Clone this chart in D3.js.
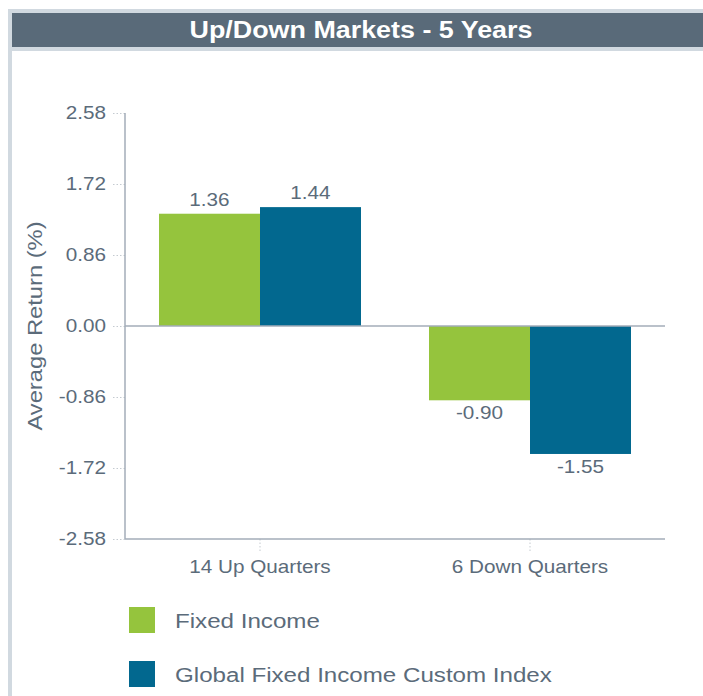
<!DOCTYPE html>
<html>
<head>
<meta charset="utf-8">
<script src="https://cdn.jsdelivr.net/npm/d3@7"></script>
<style>
  body { margin: 0; background: #fff; }
  svg text { font-family: "Liberation Sans", Arial, sans-serif; }
</style>
</head>
<body>
<div id="chart"></div>
<script>
// data
let categories = ["14 Up Quarters", "6 Down Quarters"]
let seriesNames = ["Fixed Income", "Global Fixed Income Custom Index"]
let fixedIncome = [1.36, -0.90]
let customIndex = [1.44, -1.55]
let tickValues = [2.58, 1.72, 0.86, 0.00, -0.86, -1.72, -2.58]

let colors = ["#95c43d", "#02688f"]
let textColor = "#5b6b7a"
let axisColor = "#a3adb8"

let width = 703
let height = 696

// the original text is drawn a bit wider than the font, so stretch it sideways
let stretchK = 1.15
function stretch(sel, k){
    k = k || stretchK
    sel.each(function(){
        let t = d3.select(this)
        let x = +(t.attr("x") || 0)
        let y = +(t.attr("y") || 0)
        let prev = t.attr("transform") || ""
        t.attr("x", 0).attr("y", 0)
         .attr("transform", `${prev} translate(${x}, ${y}) scale(${k}, 1)`)
    })
}

let fmt = function(d){ return d.toFixed(2) }

let svg = d3.select("#chart")
    .append("svg")
    .attr("width", width)
    .attr("height", height)

// frame + header band
svg.append("rect").attr("x", 8).attr("y", 9).attr("width", width).attr("height", 42).attr("fill", "#d1d9e0")
svg.append("rect").attr("x", 8).attr("y", 9).attr("width", 4).attr("height", height).attr("fill", "#d1d9e0")
svg.append("rect").attr("x", 12).attr("y", 13).attr("width", width).attr("height", 34).attr("fill", "#596a79")

svg.append("text")
    .attr("x", 361)
    .attr("y", 38)
    .attr("text-anchor", "middle")
    .attr("fill", "#fff")
    .attr("font-size", 24)
    .attr("font-weight", "bold")
    .text("Up/Down Markets - 5 Years")
    .call(stretch, 1.12)

let plotLeft = 125
let plotRight = 665

let yScale = d3.scaleLinear()
    .domain([-2.58, 2.58])
    .range([539, 113])

let xScale = d3.scaleBand()
    .domain(categories)
    .range([plotLeft, plotRight])

let inner = d3.scaleBand()
    .domain(seriesNames)
    .range([0, 202])

let data = categories.map(function(c, i){
    return { cat: c, values: [fixedIncome[i], customIndex[i]] }
})

// y axis: dotted ticks, no domain
let yAxis = d3.axisLeft(yScale)
    .tickValues(tickValues)
    .tickFormat(fmt)
    .tickSize(12)
    .tickPadding(7)

let yAxisG = svg.append("g")
    .attr("transform", `translate(${plotLeft}, 0)`)
    .call(yAxis)
yAxisG.select(".domain").remove()
yAxisG.selectAll(".tick line")
    .attr("stroke", "#c4cad0")
    .attr("stroke-dasharray", "1.5,2")
yAxisG.selectAll(".tick text")
    .attr("fill", textColor)
    .attr("font-size", 18)
    .attr("font-family", "'Liberation Sans', Arial, sans-serif")
    .call(stretch)

// x axis ticks
let xAxis = d3.axisBottom(xScale)
    .tickSize(12)
    .tickPadding(9)

let xAxisG = svg.append("g")
    .attr("transform", `translate(0, ${yScale(-2.58)})`)
    .call(xAxis)
xAxisG.select(".domain").remove()
xAxisG.selectAll(".tick line")
    .attr("stroke", "#c4cad0")
    .attr("stroke-dasharray", "1.5,2")
xAxisG.selectAll(".tick text")
    .attr("fill", textColor)
    .attr("font-size", 18)
    .attr("font-family", "'Liberation Sans', Arial, sans-serif")
    .call(stretch)

// bars
let groups = svg.selectAll(".group")
    .data(data)
    .enter()
    .append("g")
    .attr("class", "group")
    .attr("transform", function(d){
        return `translate(${xScale(d.cat) + xScale.bandwidth() / 2 - 101}, 0)`
    })

groups.selectAll("rect")
    .data(function(d){ return d.values })
    .enter()
    .append("rect")
    .attr("x", function(d, i){ return inner(seriesNames[i]) })
    .attr("width", inner.bandwidth())
    .attr("y", function(d){ return yScale(Math.max(0, d)) })
    .attr("height", function(d){ return Math.abs(yScale(d) - yScale(0)) })
    .attr("fill", function(d, i){ return colors[i] })

groups.selectAll(".val")
    .data(function(d){ return d.values })
    .enter()
    .append("text")
    .attr("class", "val")
    .attr("x", function(d, i){ return inner(seriesNames[i]) + inner.bandwidth() / 2 })
    .attr("y", function(d){ return d >= 0 ? yScale(d) - 8 : yScale(d) + 19 })
    .attr("text-anchor", "middle")
    .attr("fill", textColor)
    .attr("font-size", 18)
    .text(fmt)
    .call(stretch)

// axis lines
svg.append("line")
    .attr("x1", plotLeft).attr("x2", plotLeft)
    .attr("y1", yScale(2.58)).attr("y2", yScale(-2.58))
    .attr("stroke", axisColor).attr("stroke-width", 1.5)
svg.append("line")
    .attr("x1", plotLeft).attr("x2", plotRight)
    .attr("y1", yScale(0)).attr("y2", yScale(0))
    .attr("stroke", axisColor).attr("stroke-width", 1.5)
svg.append("line")
    .attr("x1", plotLeft).attr("x2", plotRight)
    .attr("y1", yScale(-2.58)).attr("y2", yScale(-2.58))
    .attr("stroke", axisColor).attr("stroke-width", 1.5)

// y axis title
svg.append("text")
    .attr("transform", `translate(42, ${yScale(0)}) rotate(-90)`)
    .attr("text-anchor", "middle")
    .attr("fill", textColor)
    .attr("font-size", 21)
    .text("Average Return (%)")
    .call(stretch, 1.13)

// legend
let legend = svg.selectAll(".legend")
    .data(seriesNames)
    .enter()
    .append("g")
    .attr("class", "legend")
    .attr("transform", function(d, i){ return `translate(129, ${607 + i * 54})` })

legend.append("rect")
    .attr("width", 26)
    .attr("height", 26)
    .attr("fill", function(d, i){ return colors[i] })

legend.append("text")
    .attr("x", 46)
    .attr("y", 21)
    .attr("fill", textColor)
    .attr("font-size", 21)
    .text(function(d){ return d })
    .call(stretch)
</script>
</body>
</html>
